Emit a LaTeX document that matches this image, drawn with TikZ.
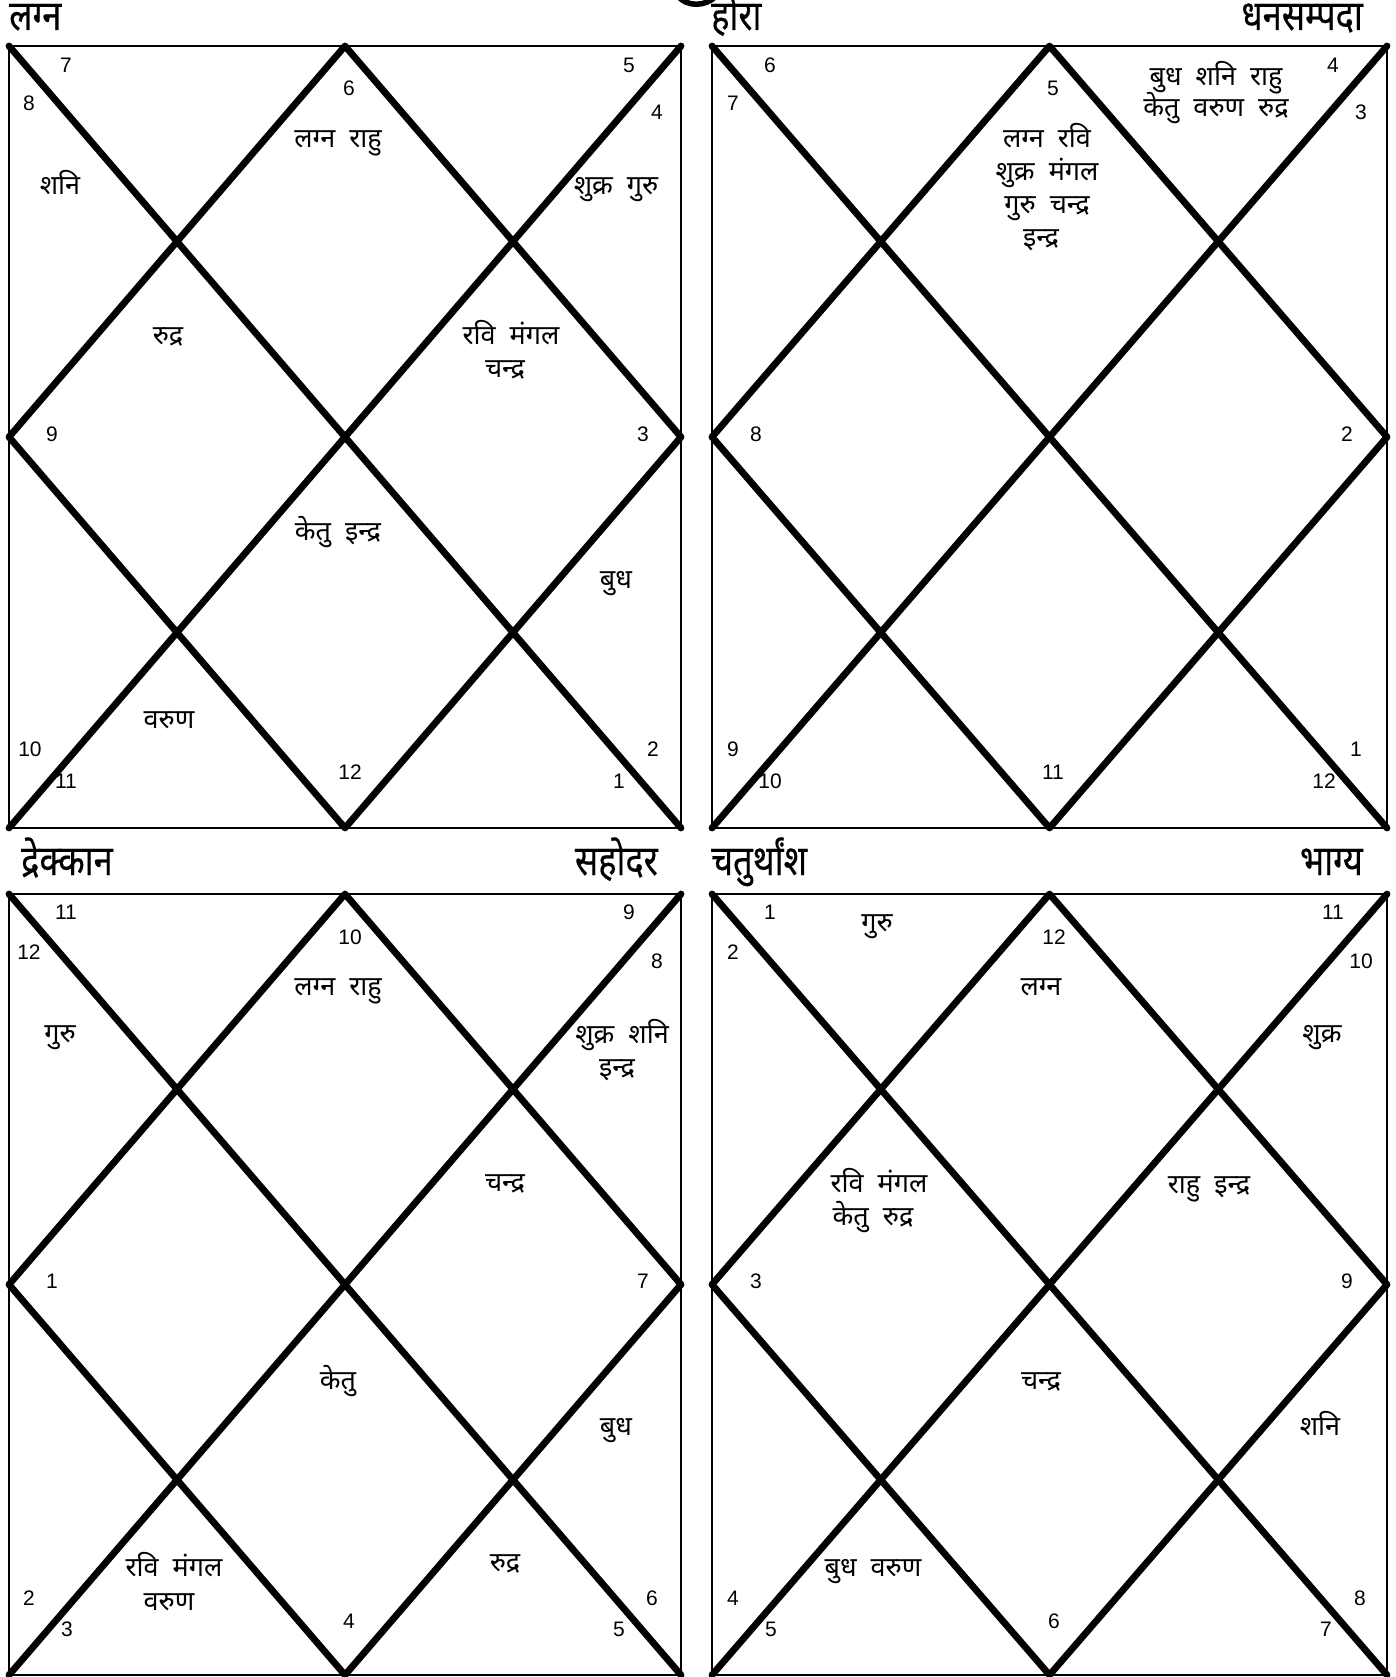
\documentclass[tikz,border=0pt]{standalone}
\usepackage{fontspec}
\newfontfamily\dev[Script=Devanagari]{Noto Sans}
\newfontfamily\devtitle[Script=Devanagari,FakeStretch=0.82,FakeBold=0.3]{Noto Sans}
\newfontfamily\numf{Liberation Sans}
\tikzset{
  frame/.style={line width=2.8pt},
  heavy/.style={line width=6.8pt,line cap=round,line join=round},
  num/.style={font=\numf\fontsize{21}{25}\selectfont,inner sep=0pt,anchor=base},
  pl/.style={font=\dev\fontsize{27}{32}\selectfont,inner sep=0pt,anchor=base},
  ttl/.style={font=\devtitle\fontsize{42}{48}\selectfont,inner sep=0pt},
}
\newcommand\kundli[5]{%
  \coordinate (#1tl) at (#2,#3); \coordinate (#1tr) at (#4,#3);
  \coordinate (#1bl) at (#2,#5); \coordinate (#1br) at (#4,#5);
  \coordinate (#1t) at ($(#1tl)!0.5!(#1tr)$); \coordinate (#1b) at ($(#1bl)!0.5!(#1br)$);
  \coordinate (#1l) at ($(#1tl)!0.5!(#1bl)$); \coordinate (#1r) at ($(#1tr)!0.5!(#1br)$);
  \draw[frame] (#1tl) rectangle (#1br);
  \draw[heavy] (#1tl) -- (#1br);
  \draw[heavy] (#1tr) -- (#1bl);
  \draw[heavy] (#1t) -- (#1r) -- (#1b) -- (#1l) -- cycle;
}
\usetikzlibrary{calc}
\begin{document}
\begin{tikzpicture}[x=1pt,y=-1pt]
\useasboundingbox[fill=white] (0,0) rectangle (1396,1677);
\kundli{A}{9}{46}{681}{828}
\kundli{B}{712}{46}{1387}{828}
\kundli{C}{9}{894}{681}{1675}
\kundli{D}{712}{894}{1387}{1675}
% partial glyph at top centre
\draw[line width=5.5pt] (678,-4) .. controls (686,7) and (706,7) .. (716,-4);
% titles
\node[ttl,anchor=base west] (tA) at (9,30) {लग्न};
\node[ttl,anchor=base west] (tB) at (711,30) {होरा};
\node[ttl,anchor=base east] (tB2) at (1363,30) {धनसम्पदा};
\node[ttl,anchor=base west] (tC) at (21,875) {द्रेक्कान};
\node[ttl,anchor=base east] (tC2) at (658,875) {सहोदर};
\node[ttl,anchor=base west] (tD) at (711,875) {चतुर्थांश};
\node[ttl,anchor=base east] (tD2) at (1363,875) {भाग्य};
% ---- chart A numbers
\node[num] (a7) at (66,73) {7};
\node[num] (a8) at (29,111) {8};
\node[num] (a6) at (349,96) {6};
\node[num] (a5) at (629,73) {5};
\node[num] (a4) at (657,120) {4};
\node[num] (a9) at (52,441) {9};
\node[num] (a3) at (643,441) {3};
\node[num] (a10) at (30,756) {10};
\node[num] (a11) at (66,788) {11};
\node[num] (a12) at (350,779) {12};
\node[num] (a2) at (653,756) {2};
\node[num] (a1) at (619,788) {1};
% chart A planets
\node[pl] (ap1) at (60,195) {शनि};
\node[pl] (ap2) at (338,148) {लग्न\ \ राहु};
\node[pl] (ap3) at (616,195) {शुक्र\ \ गुरु};
\node[pl] (ap4) at (168,344) {रुद्र};
\node[pl] (ap5) at (511,344) {रवि\ \ मंगल};
\node[pl] (ap6) at (505,377) {चन्द्र};
\node[pl] (ap7) at (338,540) {केतु\ \ इन्द्र};
\node[pl] (ap8) at (616,588) {बुध};
\node[pl] (ap9) at (169,728) {वरुण};
% ---- chart B numbers
\node[num] (b6) at (770,73) {6};
\node[num] (b7) at (733,111) {7};
\node[num] (b5) at (1053,96) {5};
\node[num] (b4) at (1333,73) {4};
\node[num] (b3) at (1361,120) {3};
\node[num] (b8) at (756,441) {8};
\node[num] (b2) at (1347,441) {2};
\node[num] (b9) at (733,756) {9};
\node[num] (b10) at (770,788) {10};
\node[num] (b11) at (1053,779) {11};
\node[num] (b1) at (1356,756) {1};
\node[num] (b12) at (1324,788) {12};
% chart B planets
\node[pl] (bp1) at (1216,86) {बुध\ \ शनि\ \ राहु};
\node[pl] (bp2) at (1216,117) {केतु\ \ वरुण\ \ रुद्र};
\node[pl] (bp3) at (1047,148) {लग्न\ \ रवि};
\node[pl] (bp4) at (1047,181) {शुक्र\ \ मंगल};
\node[pl] (bp5) at (1047,214) {गुरु\ \ चन्द्र};
\node[pl] (bp6) at (1041,247) {इन्द्र};
% ---- chart C numbers
\node[num] (c11) at (66,919) {11};
\node[num] (c12) at (29,959) {12};
\node[num] (c10) at (350,944) {10};
\node[num] (c9) at (629,919) {9};
\node[num] (c8) at (657,968) {8};
\node[num] (c1) at (52,1288) {1};
\node[num] (c7) at (643,1288) {7};
\node[num] (c2) at (29,1605) {2};
\node[num] (c3) at (67,1636) {3};
\node[num] (c4) at (349,1628) {4};
\node[num] (c6) at (652,1605) {6};
\node[num] (c5) at (619,1636) {5};
% chart C planets
\node[pl] (cp1) at (60,1042) {गुरु};
\node[pl] (cp2) at (338,995) {लग्न\ \ राहु};
\node[pl] (cp3) at (622,1043) {शुक्र\ \ शनि};
\node[pl] (cp4) at (617,1076) {इन्द्र};
\node[pl] (cp5) at (505,1191) {चन्द्र};
\node[pl] (cp6) at (338,1389) {केतु};
\node[pl] (cp7) at (616,1435) {बुध};
\node[pl] (cp8) at (505,1571) {रुद्र};
\node[pl] (cp9) at (174,1576) {रवि\ \ मंगल};
\node[pl] (cp10) at (169,1610) {वरुण};
% ---- chart D numbers
\node[num] (d1) at (770,919) {1};
\node[num] (d2) at (733,959) {2};
\node[num] (d12) at (1054,944) {12};
\node[num] (d11) at (1333,919) {11};
\node[num] (d10) at (1361,968) {10};
\node[num] (d3) at (756,1288) {3};
\node[num] (d9) at (1347,1288) {9};
\node[num] (d4) at (733,1605) {4};
\node[num] (d5) at (771,1636) {5};
\node[num] (d6) at (1054,1628) {6};
\node[num] (d8) at (1360,1605) {8};
\node[num] (d7) at (1326,1636) {7};
% chart D planets
\node[pl] (dp1) at (877,931) {गुरु};
\node[pl] (dp2) at (1041,995) {लग्न};
\node[pl] (dp3) at (1322,1042) {शुक्र};
\node[pl] (dp4) at (879,1192) {रवि\ \ मंगल};
\node[pl] (dp5) at (873,1225) {केतु\ \ रुद्र};
\node[pl] (dp6) at (1209,1193) {राहु\ \ इन्द्र};
\node[pl] (dp7) at (1041,1389) {चन्द्र};
\node[pl] (dp8) at (1320,1435) {शनि};
\node[pl] (dp9) at (873,1576) {बुध\ \ वरुण};
\end{tikzpicture}
\end{document}
